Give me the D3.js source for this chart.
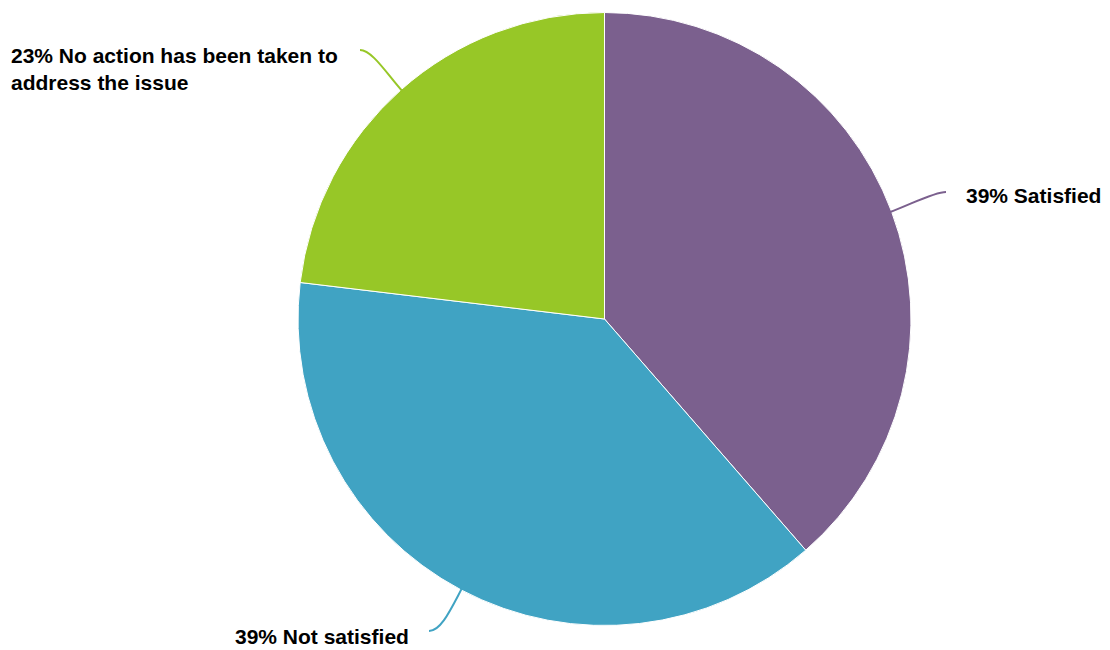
<!DOCTYPE html>
<html>
<head>
<meta charset="utf-8">
<script src="https://cdn.jsdelivr.net/npm/d3@7"></script>
<style>
  html, body { margin: 0; padding: 0; background: #fff; }
  svg { display: block; }
  text { font-family: "Liberation Sans", Arial, Helvetica, sans-serif; font-weight: bold; fill: #000; }
</style>
</head>
<body>
<svg id="chart" width="1110" height="650"></svg>
<script>
const categories = ["Satisfied", "Not satisfied", "No action has been taken to address the issue"];
const values = [38.6, 38.3, 23.1];
const labelTexts = ["39% Satisfied", "39% Not satisfied", "23% No action has been taken to|address the issue"];
const colors = ["#7B608E", "#40A3C3", "#97C727"];

const W = 1110, H = 650;
const cx = 604.5, cy = 319, R = 306.5;
const svg = d3.select("#chart");
const g = svg.append("g").attr("transform", `translate(${cx},${cy})`);

const pie = d3.pie().sort(null).value(d => d.v);
const arcs = pie(categories.map((c, i) => ({ c, v: values[i], i })));
const arc = d3.arc().innerRadius(0).outerRadius(R);

g.selectAll("path.slice").data(arcs).enter().append("path")
  .attr("class", "slice")
  .attr("d", arc)
  .attr("fill", d => colors[d.data.i])
  .attr("stroke", "#fff")
  .attr("stroke-width", 1)
  .attr("stroke-linejoin", "round");

// label layout (end of connector relative to chart, text anchor, and direction of approach)
const layout = [
  { end: [946, 192], dir: -1, tx: 966, ty: 203, anchor: "start" },
  { end: [429, 631], dir: 1, tx: 235, ty: 644, anchor: "start" },
  { end: [360, 50], dir: 1, tx: 11, ty: 63, anchor: "start" }
];

arcs.forEach((a, k) => {
  const L = layout[k];
  const mid = (a.startAngle + a.endAngle) / 2;
  const sx = Math.sin(mid), sy = -Math.cos(mid);
  const ex = cx + (R - 2) * sx, ey = cy + (R - 2) * sy;
  const c1x = cx + (R + 22) * sx, c1y = cy + (R + 22) * sy;
  const c2x = L.end[0] + L.dir * 12, c2y = L.end[1];
  const p = d3.path();
  p.moveTo(ex, ey);
  p.bezierCurveTo(c1x, c1y, c2x, c2y, L.end[0], L.end[1]);
  svg.append("path").attr("d", p.toString())
    .attr("fill", "none")
    .attr("stroke", colors[a.data.i])
    .attr("stroke-width", 2);

  const lines = labelTexts[a.data.i].split("|");
  const t = svg.append("text")
    .attr("x", L.tx).attr("y", L.ty)
    .attr("text-anchor", L.anchor)
    .style("font-size", "21px");
  lines.forEach((ln, j) => {
    t.append("tspan").attr("x", L.tx).attr("dy", j === 0 ? 0 : 27).text(ln);
  });
});
</script>
</body>
</html>
